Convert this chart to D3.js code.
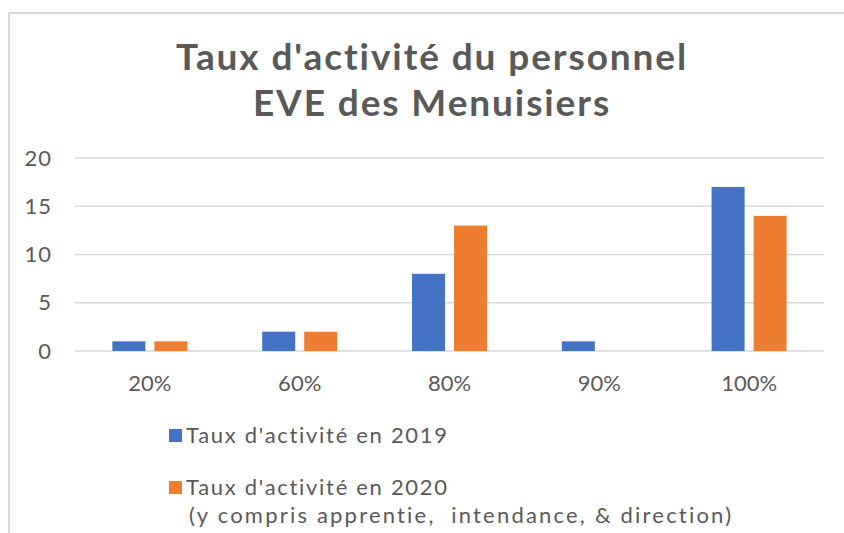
<!DOCTYPE html>
<html>
<head>
<meta charset="utf-8">
<script src="https://cdn.jsdelivr.net/npm/d3@7"></script>
<style>
  body { margin: 0; background: #fff; }
  text { font-family: Lato, "Open Sans", sans-serif; fill: #595959; }
</style>
</head>
<body>
<div id="chart"></div>
<script>
// donnees
var categories = ["20%", "60%", "80%", "90%", "100%"];
var series = ["Taux d'activité en 2019", "Taux d'activité en 2020"];
var values2019 = [1, 2, 8, 1, 17];
var values2020 = [1, 2, 13, 0, 14];
var yTicks = [0, 5, 10, 15, 20];
var titleLines = ["Taux d'activité du personnel", "EVE des Menuisiers"];
var legendNote = "(y compris apprentie,  intendance, & direction)";
var colors = ["#4472C4", "#ED7D31"];

var width = 844, height = 533;
var margin = {left: 75, right: 20, top: 158, bottom: 182};

var svg = d3.select("#chart").append("svg")
  .attr("width", width)
  .attr("height", height);

// cadre
svg.append("rect")
  .attr("x", 9)
  .attr("y", 13)
  .attr("width", 860)
  .attr("height", 560)
  .attr("fill", "none")
  .attr("stroke", "#d9d9d9")
  .attr("stroke-width", 2);

// titre
svg.selectAll("text.titre")
  .data(titleLines)
  .enter().append("text")
  .attr("class", "titre")
  .attr("x", 432)
  .attr("y", function(d, i){ return 70 + i * 46; })
  .attr("text-anchor", "middle")
  .attr("font-size", 37)
  .attr("font-weight", "bold")
  .attr("letter-spacing", 1.9)
  .text(function(d){ return d; });

var x0 = d3.scaleBand()
  .domain(categories)
  .range([margin.left, width - margin.right]);

var x1 = d3.scaleBand()
  .domain(series)
  .range([0, x0.bandwidth()])
  .paddingInner(0.214)
  .paddingOuter(0.89);

var y = d3.scaleLinear()
  .domain([0, 20])
  .range([height - margin.bottom, margin.top]);

// gitterlinien
svg.selectAll("line.grid")
  .data(yTicks)
  .enter().append("line")
  .attr("class", "grid")
  .attr("x1", margin.left)
  .attr("x2", width - margin.right)
  .attr("y1", function(d){ return y(d); })
  .attr("y2", function(d){ return y(d); })
  .attr("stroke", "#d9d9d9")
  .attr("stroke-width", 1.5);

// y achse
var yAxis = svg.append("g")
  .attr("transform", "translate(52,0)")
  .call(d3.axisLeft(y).tickValues(yTicks).tickSize(0).tickPadding(0));
yAxis.select(".domain").remove();
yAxis.selectAll("text")
  .attr("font-size", 22)
  .attr("font-family", "Lato, sans-serif")
  .attr("letter-spacing", 1)
  .attr("fill", "#595959");

// x achse
var xAxis = svg.append("g")
  .attr("transform", "translate(0," + y(0) + ")")
  .call(d3.axisBottom(x0).tickSize(0).tickPadding(24));
xAxis.select(".domain").remove();
xAxis.selectAll("text")
  .attr("font-size", 22)
  .attr("font-family", "Lato, sans-serif")
  .attr("fill", "#595959");

// balken
var rows = categories.map(function(c, i){
  return {cat: c, vals: [values2019[i], values2020[i]]};
});
var groups = svg.selectAll("g.grp")
  .data(rows)
  .enter().append("g")
  .attr("class", "grp")
  .attr("transform", function(d){ return "translate(" + x0(d.cat) + ",0)"; });
groups.selectAll("rect")
  .data(function(d){ return d.vals.map(function(v, j){ return {s: series[j], v: v, j: j}; }); })
  .enter().append("rect")
  .attr("x", function(d){ return x1(d.s); })
  .attr("y", function(d){ return y(d.v); })
  .attr("width", x1.bandwidth())
  .attr("height", function(d){ return y(0) - y(d.v); })
  .attr("fill", function(d){ return colors[d.j]; });

// legende
var legendY = [429, 481];
series.forEach(function(s, i){
  svg.append("rect")
    .attr("x", 169)
    .attr("y", legendY[i])
    .attr("width", 13)
    .attr("height", 13)
    .attr("fill", colors[i]);
  svg.append("text")
    .attr("x", 186)
    .attr("y", legendY[i] + 14)
    .attr("font-size", 22)
    .attr("letter-spacing", 1.7)
    .text(s);
});
svg.append("text")
  .attr("x", 189)
  .attr("y", 523)
  .attr("font-size", 22)
  .attr("letter-spacing", 2.2)
  .style("white-space", "pre")
  .text(legendNote);
</script>
</body>
</html>
